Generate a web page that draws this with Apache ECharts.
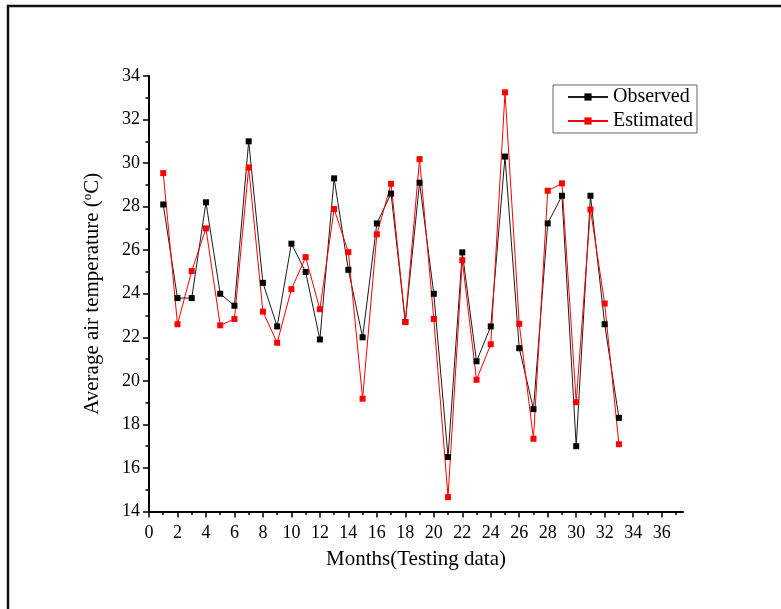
<!DOCTYPE html>
<html>
<head>
<meta charset="utf-8">
<script src="https://cdn.jsdelivr.net/npm/echarts@6/dist/echarts.min.js"></script>
<style>
  html, body { margin: 0; padding: 0; background: #fff; }
  #chart { width: 781px; height: 609px; }
</style>
</head>
<body>
<div id="chart"></div>
<script>
// Monthly average air temperature (°C), testing period
const months = [1, 2, 3, 4, 5, 6, 7, 8, 9, 10, 11, 12, 13, 14, 15, 16, 17,
                18, 19, 20, 21, 22, 23, 24, 25, 26, 27, 28, 29, 30, 31, 32, 33];
const observed = [28.1, 23.8, 23.8, 28.2, 24.0, 23.45, 31.0, 24.5, 22.5, 26.3, 25.0,
                  21.9, 29.3, 25.1, 22.0, 27.23, 28.6, 22.7, 29.1, 24.0, 16.5, 25.9,
                  20.9, 22.5, 30.3, 21.5, 18.7, 27.23, 28.5, 17.0, 28.5, 22.6, 18.3];
const estimated = [29.54, 22.6, 25.04, 27.0, 22.55, 22.84, 29.8, 23.18, 21.75, 24.21, 25.68,
                   23.29, 27.89, 25.91, 19.18, 26.73, 29.05, 22.7, 30.18, 22.84, 14.66, 25.54,
                   20.05, 21.68, 33.25, 22.62, 17.34, 28.73, 29.07, 19.02, 27.87, 23.55, 17.09];

// x-axis tick positions
const xMajorTicks = [0, 2, 4, 6, 8, 10, 12, 14, 16, 18, 20, 22, 24, 26, 28, 30, 32, 34, 36];
const xMinorTicks = [1, 3, 5, 7, 9, 11, 13, 15, 17, 19, 21, 23, 25, 27, 29, 31, 33, 35, 37];

const serif = '"Liberation Serif", "DejaVu Serif", serif';
const chart = echarts.init(document.getElementById('chart'), null, { renderer: 'canvas' });

const obsData = months.map((m, i) => [m, observed[i]]);
const estData = months.map((m, i) => [m, estimated[i]]);

chart.setOption({
  animation: false,
  backgroundColor: '#ffffff',
  grid: { left: 149, right: 98, top: 76, bottom: 97.5, containLabel: false },
  graphic: [{
    type: 'polyline',
    shape: { points: [[8, 609], [8, 6], [781, 6]] },
    style: { stroke: '#111', lineWidth: 2.5, fill: null }
  }],
  legend: {
    orient: 'vertical',
    left: 553,
    top: 85,
    padding: [2, 4, 2, 14],
    itemGap: 4,
    itemWidth: 40,
    itemHeight: 9,
    borderColor: '#666',
    borderWidth: 1,
    textStyle: { fontFamily: serif, fontSize: 20, color: '#000', lineHeight: 20 },
    data: ['Observed', 'Estimated']
  },
  xAxis: [{
    type: 'value',
    min: 0,
    max: 37.5,
    interval: 2,
    name: 'Months(Testing data)',
    nameLocation: 'middle',
    nameGap: 37,
    nameTextStyle: { fontFamily: serif, fontSize: 21, color: '#000' },
    axisLine: { show: true, onZero: false, lineStyle: { color: '#000', width: 2 } },
    axisTick: { show: true, length: 6, customValues: xMajorTicks, lineStyle: { color: '#000', width: 1.5 } },
    axisLabel: { customValues: xMajorTicks, margin: 13, fontFamily: serif, fontSize: 18, color: '#000' },
    splitLine: { show: false }
  }, {
    type: 'value',
    position: 'bottom',
    min: 0,
    max: 37.5,
    interval: 1,
    axisLine: { show: false },
    axisTick: { show: true, length: 3.5, customValues: xMinorTicks, lineStyle: { color: '#000', width: 1.5 } },
    axisLabel: { show: false },
    splitLine: { show: false }
  }],
  yAxis: {
    type: 'value',
    min: 14,
    max: 34,
    interval: 2,
    name: '{t|Average air temperature (}{s|o}{t|C)}',
    nameLocation: 'middle',
    nameGap: 46,
    nameTextStyle: {
      rich: {
        t: { fontFamily: serif, fontSize: 21, color: '#000' },
        s: { fontFamily: serif, fontSize: 13, color: '#000', padding: [0, 0, 9, 0] }
      }
    },
    axisLine: { show: true, onZero: false, lineStyle: { color: '#000', width: 2 } },
    axisTick: { show: true, length: 6, lineStyle: { color: '#000', width: 1.5 } },
    minorTick: { show: true, splitNumber: 2, length: 3.5, lineStyle: { color: '#000', width: 1.5 } },
    axisLabel: { margin: 9, fontFamily: serif, fontSize: 18, color: '#000' },
    splitLine: { show: false }
  },
  series: [{
    name: 'Observed',
    type: 'line',
    data: obsData,
    symbol: 'rect',
    symbolSize: 6,
    lineStyle: { color: '#1a1a1a', width: 1 },
    itemStyle: { color: '#000' },
    emphasis: { disabled: true }
  }, {
    name: 'Estimated',
    type: 'line',
    data: estData,
    symbol: 'rect',
    symbolSize: 6,
    lineStyle: { color: '#ff0000', width: 1 },
    itemStyle: { color: '#ff0000' },
    emphasis: { disabled: true }
  }]
});
</script>
</body>
</html>
